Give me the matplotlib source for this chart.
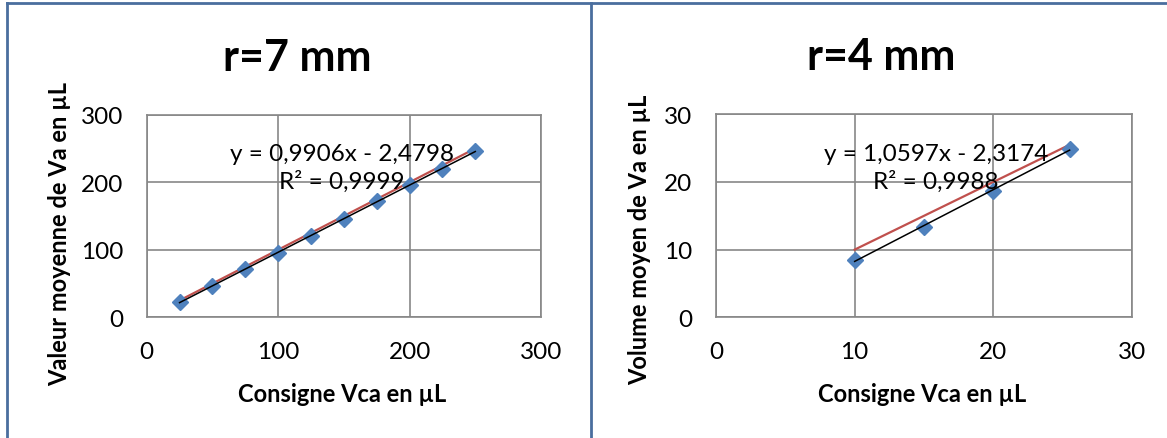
import numpy as np
import matplotlib
matplotlib.use("Agg")
import matplotlib.pyplot as plt
from matplotlib.lines import Line2D

plt.rcParams["font.family"] = ["Lato", "DejaVu Sans"]

# r = 7 mm series
x_7mm = [25, 50, 75, 100, 125, 150, 175, 200, 225, 250]
y_7mm = [22, 47, 72, 95, 121, 145, 172, 196, 220, 246]
eq_7mm = "y = 0,9906x - 2,4798\nR² = 0,9999"

# r = 4 mm series
x_4mm = [10, 15, 20, 25.5]
y_4mm = [8.5, 13.3, 18.7, 24.9]
eq_4mm = "y = 1,0597x - 2,3174\nR² = 0,9988"

W, H = 1167, 439
BLUE = "#4F81BD"
RED = "#C0504D"
GRID = "#878787"
FRAME = "#4A6E9E"


def px_rect(x0, x1, y_top, y_bot):
    return [x0 / W, (H - y_bot) / H, (x1 - x0) / W, (y_bot - y_top) / H]


def panel(ax, x, y, eq, xmax, ylabel, title, title_x, ylab_pos, eq_pos):
    x = np.array(x, dtype=float)
    y = np.array(y, dtype=float)
    # ideal line y = x
    ax.plot([x[0], x[-1]], [x[0], x[-1]], color=RED, lw=1.6, zorder=2)
    ax.plot(x, y, ls="none", marker="D", ms=8, color=BLUE, zorder=3)
    # linear trendline
    a, b = np.polyfit(x, y, 1)
    ax.plot([x[0], x[-1]], [a * x[0] + b, a * x[-1] + b], color="black", lw=1.1, zorder=4)

    ax.set_xlim(0, xmax)
    ax.set_ylim(0, xmax)
    ticks = np.linspace(0, xmax, 4)
    ax.set_xticks(ticks)
    ax.set_yticks(ticks)
    ax.set_xticklabels([f"{t:g}" for t in ticks])
    ax.set_yticklabels([f"{t:g}" for t in ticks])
    ax.grid(True, color=GRID, lw=1.2)
    ax.set_axisbelow(True)
    for s in ax.spines.values():
        s.set_color(GRID)
        s.set_linewidth(1.2)
    ax.tick_params(length=0, labelsize=17.5, colors="black")
    ax.tick_params(axis="y", pad=17)
    ax.tick_params(axis="x", pad=17)

    ax.set_xlabel("Consigne Vca en µL", fontsize=17, fontweight="bold")
    ax.xaxis.set_label_coords(0.496, -0.32)
    ax.set_ylabel(ylabel, fontsize=17, fontweight="bold")
    ax.yaxis.set_label_coords(ylab_pos[0], ylab_pos[1])
    ax.text(title_x, 1.285, title, transform=ax.transAxes, ha="center", va="center",
            fontsize=31, fontweight="bold")
    ax.text(eq_pos[0], eq_pos[1], eq, transform=ax.transAxes, ha="center", va="center",
            fontsize=17.5, linespacing=1.32, zorder=5)


fig = plt.figure(figsize=(W / 100, H / 100), dpi=100)

ax1 = fig.add_axes(px_rect(146.7, 541, 115.7, 318.3))
panel(ax1, x_7mm, y_7mm, eq_7mm, 300, "Valeur moyenne de Va en µL", "r=7 mm",
      0.381, (-0.192, 0.416), (0.495, 0.739))

ax2 = fig.add_axes(px_rect(716, 1132, 115.3, 318.3))
panel(ax2, x_4mm, y_4mm, eq_4mm, 30, "Volume moyen de Va en µL", "r=4 mm",
      0.398, (-0.156, 0.386), (0.529, 0.739))

# outer frame of the two chart boxes
for xs, ys in [((7, W), (3.5, 3.5)), ((7, 7), (3.5, H)), ((590.7, 590.7), (3.5, H))]:
    fig.add_artist(Line2D([v / W for v in xs], [1 - v / H for v in ys],
                          color=FRAME, lw=2, transform=fig.transFigure))

fig.savefig("out.png", dpi=100)
